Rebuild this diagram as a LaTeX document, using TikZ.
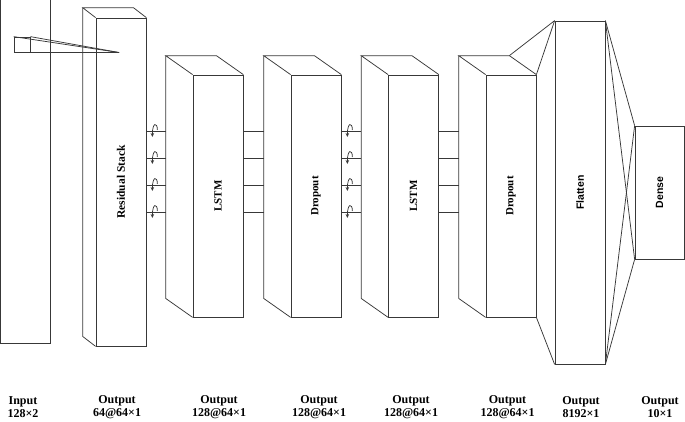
\documentclass[tikz,border=0pt]{standalone}
\usepackage{fontspec}
\setmainfont{Liberation Serif}
\newfontfamily\labsans{Liberation Sans}
\usetikzlibrary{calc,arrows.meta}
\tikzset{
  ln/.style={draw=black!78, line width=0.75pt},
  face/.style={ln, rectangle, inner sep=0pt, minimum width=50pt},
  blab/.style={rotate=90, inner sep=0pt, font=\bfseries\fontsize{11}{12}\selectfont},
  slab/.style={rotate=90, inner sep=0pt, font=\labsans\bfseries\fontsize{10.5}{12}\selectfont},
  olab/.style={align=center, inner sep=0pt, font=\bfseries\fontsize{12}{12.5}\selectfont},
  curl/.style={ln, -{Stealth[length=4pt,width=3.5pt]}},
}
\newcommand\mycuboid[6]{%
  \node[face, minimum height=#4pt] (#1) at (#2,#3) {};
  \coordinate (#1-bnw) at ($(#1.north west)+(-#5,-#6)$);
  \coordinate (#1-bne) at ($(#1.north east)+(-#5,-#6)$);
  \coordinate (#1-bsw) at ($(#1.south west)+(-#5,-#6)$);
  \draw[ln] (#1.north west) -- (#1-bnw) -- (#1-bne) -- (#1.north east);
  \draw[ln] (#1-bnw) -- (#1-bsw) -- (#1.south west);
}
\begin{document}
\begin{tikzpicture}[x=1pt,y=-1pt]
\useasboundingbox (0,0) rectangle (685,421);

% input
\node[inner sep=0pt, minimum width=49.5pt, minimum height=343pt] (inp) at (25.25,171.5) {};
\draw[ln] (inp.north west) -- (inp.south west) -- (inp.south east) -- (inp.north east);

% blocks
\mycuboid{resid}{121}{182}{328}{13}{10}
\mycuboid{lstmA}{218}{196}{242}{27}{19}
\mycuboid{dropA}{316}{196}{242}{27}{19}
\mycuboid{lstmB}{413.5}{196}{242}{27}{19}
\mycuboid{dropB}{511}{196}{242}{27}{19}
\node[face, minimum height=343pt] (flat) at (580,192.5) {};
\node[face, minimum width=49pt, minimum height=133pt] (dense) at (659.5,192.5) {};

% wedge (kernel)
\node[face, minimum width=16pt, minimum height=15pt] (wedge) at (22,44.5) {};
\coordinate (apex) at (119,52.5);
\draw[ln] (wedge.north west) -- (apex);
\draw[ln] (wedge.north east) -- (apex);
\draw[ln] (wedge.south east) -- (apex);

% recurrent columns and plain links
\foreach \yy [count=\i] in {131,158,185,212} {
  \coordinate (ra\i) at (resid.east |- 0,\yy);
  \coordinate (rb\i) at (lstmA-bnw |- 0,\yy);
  \draw[ln] (ra\i) -- (rb\i);
  \draw[curl] ($(ra\i)+(11,-1)$) .. controls +(0,-8) and +(0,-15) .. ($(ra\i)+(6,6)$);
  \coordinate (pa\i) at (lstmA.east |- 0,\yy);
  \coordinate (pb\i) at (dropA-bnw |- 0,\yy);
  \draw[ln] (pa\i) -- (pb\i);
  \coordinate (qa\i) at (dropA.east |- 0,\yy);
  \coordinate (qb\i) at (lstmB-bnw |- 0,\yy);
  \draw[ln] (qa\i) -- (qb\i);
  \draw[curl] ($(qa\i)+(11,-1)$) .. controls +(0,-8) and +(0,-15) .. ($(qa\i)+(6,6)$);
  \coordinate (sa\i) at (lstmB.east |- 0,\yy);
  \coordinate (sb\i) at (dropB-bnw |- 0,\yy);
  \draw[ln] (sa\i) -- (sb\i);
}

% dropout -> flatten
\draw[ln] (dropB-bne) -- (flat.north west);
\draw[ln] (dropB.north east) -- (flat.north west);
\draw[ln] (dropB.south east) -- (flat.south west);

% flatten -> dense
\draw[ln] (flat.north east) -- (dense.north west);
\draw[ln] (flat.north east) -- (dense.south west);
\draw[ln] (flat.south east) -- (dense.north west);
\draw[ln] (flat.south east) -- (dense.south west);

% block labels
\node[blab, font=\bfseries\fontsize{11.5}{12}\selectfont] (residlab) at (resid) {Residual Stack};
\node[blab] (lstmAlab) at (lstmA) {LSTM};
\node[blab] (dropAlab) at (dropA) {Dropout};
\node[blab] (lstmBlab) at (lstmB) {LSTM};
\node[blab] (dropBlab) at (dropB) {Dropout};
\node[slab] (flatlab) at (flat) {Flatten};
\node[slab] (denselab) at (dense) {Dense};

% output labels
\node[olab] (o0) at (23,407) {Input\\128×2};
\node[olab] (o1) at (117,407) {Output\\64@64×1};
\node[olab] (o2) at (219,407) {Output\\128@64×1};
\node[olab] (o3) at (319,407) {Output\\128@64×1};
\node[olab] (o4) at (411,407) {Output\\128@64×1};
\node[olab] (o5) at (507.5,407) {Output\\128@64×1};
\node[olab] (o6) at (581,407) {Output\\8192×1};
\node[olab] (o7) at (660,407) {Output\\10×1};
\end{tikzpicture}
\end{document}
